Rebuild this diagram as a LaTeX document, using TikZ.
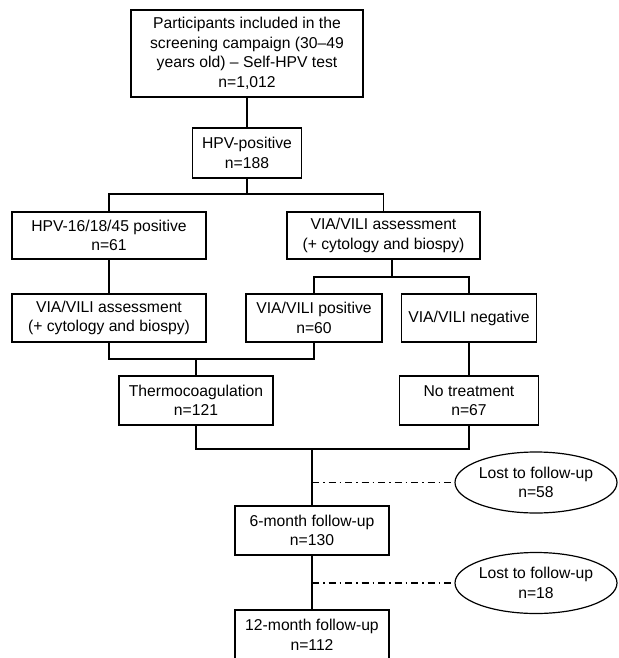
\documentclass[tikz,border=0pt]{standalone}
\usepackage{fontspec}
\setmainfont{Liberation Sans}
\usetikzlibrary{shapes.geometric}
\begin{document}
\begin{tikzpicture}[x=1pt,y=-1pt,
  every node/.style={font=\fontsize{15.7}{19.5}\selectfont, align=center, inner sep=0pt},
  box/.style={draw, line width=1.2pt, rectangle},
  oval/.style={draw, line width=1.2pt, ellipse, minimum width=162pt, minimum height=61pt},
  link/.style={line width=1.2pt},
  dashdot/.style={line width=1.2pt, dash pattern=on 7pt off 4pt on 1.5pt off 4pt}]
\useasboundingbox (0,0) rectangle (618,658);
\clip (0,0) rectangle (618,658);
\node[box, minimum width=232pt, minimum height=87pt] (top) at (247,53.5)
  {Participants included in the\\screening campaign (30–49\\years old) – Self-HPV test\\n=1,012};
\node[box, minimum width=109pt, minimum height=50pt] (hpv) at (247,153) {HPV-positive\\n=188};
\node[box, minimum width=194pt, minimum height=47pt] (hpv16) at (109,235.5) {HPV-16/18/45 positive\\n=61};
\node[box, minimum width=193pt, minimum height=47pt] (viaR) at (383.5,235.5) {VIA/VILI assessment\\(+ cytology and biospy)};
\node[box, minimum width=194pt, minimum height=48pt] (viaL) at (109,318) {VIA/VILI assessment\\(+ cytology and biospy)};
\node[box, minimum width=136pt, minimum height=48pt] (viaPos) at (314,318) {VIA/VILI positive\\n=60};
\node[box, minimum width=135pt, minimum height=48pt] (viaNeg) at (469,318) {VIA/VILI negative};
\node[box, minimum width=154pt, minimum height=49pt] (thermo) at (196,400.5) {Thermocoagulation\\n=121};
\node[box, minimum width=139pt, minimum height=49pt] (notreat) at (469,400.5) {No treatment\\n=67};
\node[box, minimum width=154pt, minimum height=49pt] (m6) at (312,530.5) {6-month follow-up\\n=130};
\node[box, minimum width=154pt, minimum height=50pt] (m12) at (312,635) {12-month follow-up\\n=112};
\node[oval] (lost1) at (536,482.5) {Lost to follow-up\\n=58};
\node[oval] (lost2) at (536,583) {Lost to follow-up\\n=18};
\coordinate (j1) at (247,194);
\coordinate (j2) at (392,277);
\coordinate (j3) at (196,359);
\coordinate (j4) at (312,449);
\coordinate (d1) at (312,482.5);
\coordinate (d2) at (312,583);
\draw[link] (top) -- (hpv);
\draw[link] (hpv.south) -- (j1);
\draw[link] (hpv16.north) |- (j1) -| (viaR.north);
\draw[link] (hpv16) -- (viaL);
\draw[link] (viaR.south -| j2) -- (j2);
\draw[link] (viaPos.north) |- (j2) -| (viaNeg.north);
\draw[link] (viaL.south) |- (j3) -| (viaPos.south);
\draw[link] (j3) -- (thermo.north);
\draw[link] (viaNeg) -- (notreat);
\draw[link] (thermo.south) |- (j4) -| (notreat.south);
\draw[link] (j4) -- (m6.north);
\draw[link] (m6) -- (m12);
\draw[dashdot] (d1) -- (lost1.west);
\draw[dashdot] (d2) -- (lost2.west);
\end{tikzpicture}
\end{document}
